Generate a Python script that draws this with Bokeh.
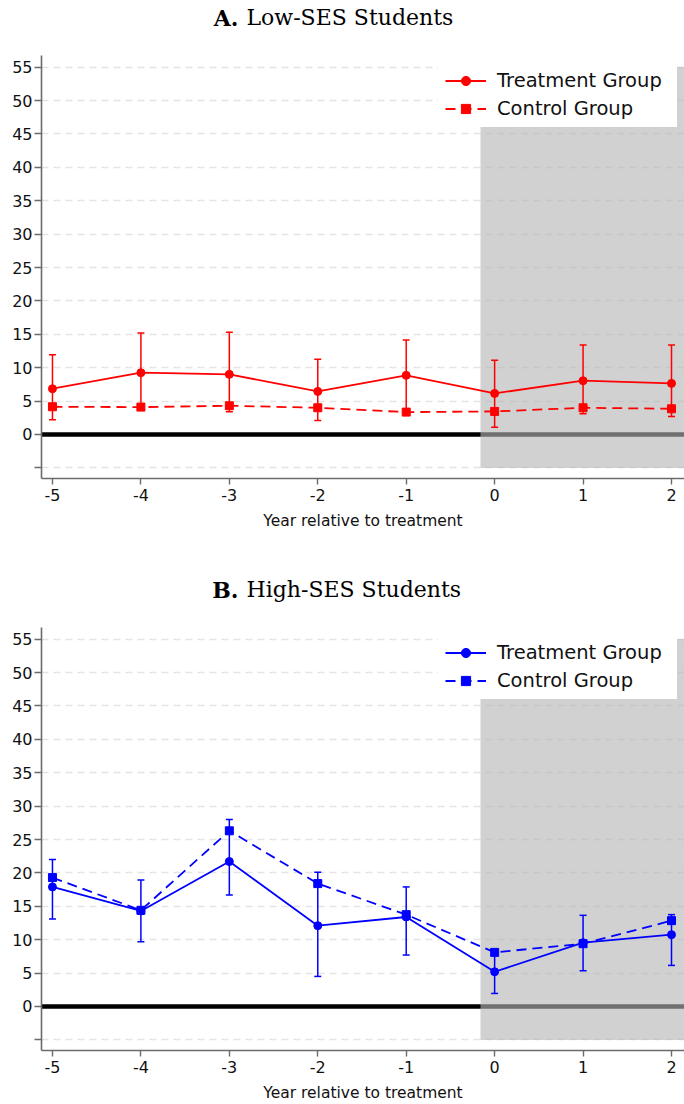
from bokeh.plotting import figure
from bokeh.models import (ColumnDataSource, Whisker, TeeHead, Legend, LegendItem,
                          FixedTicker, Range1d)
from bokeh.layouts import column
from bokeh.embed import file_html
from bokeh.resources import INLINE
from bokeh.core.properties import value

# ---- data -------------------------------------------------------------
years = [-5, -4, -3, -2, -1, 0, 1, 2]

low_treat = [6.85, 9.25, 9.0, 6.45, 8.85, 6.15, 8.05, 7.65]
low_ctrl = [4.15, 4.1, 4.3, 4.0, 3.35, 3.45, 4.0, 3.85]
low_ci_hi = [11.95, 15.2, 15.3, 11.25, 14.15, 11.1, 13.4, 13.4]
low_ci_lo = [2.2, 3.7, 3.4, 2.1, 3.6, 1.1, 3.1, 2.7]

high_treat = [17.9, 14.3, 21.7, 12.1, 13.4, 5.2, 9.55, 10.75]
high_ctrl = [19.3, 14.4, 26.3, 18.4, 13.75, 8.1, 9.4, 12.85]
high_ci_hi = [22.0, 18.95, 28.0, 20.1, 17.9, 8.5, 13.65, 13.75]
high_ci_lo = [13.1, 9.7, 16.7, 4.5, 7.7, 1.95, 5.35, 6.15]

x_ticks = [-5, -4, -3, -2, -1, 0, 1, 2]
x_tick_labels = ["-5", "-4", "-3", "-2", "-1", "0", "1", "2"]
y_ticks = [-5, 0, 5, 10, 15, 20, 25, 30, 35, 40, 45, 50, 55]
y_tick_labels = ["", "0", "5", "10", "15", "20", "25", "30", "35", "40", "45", "50", "55"]

# post-treatment window
shade_left = [-0.16]
shade_right = [2.4]
shade_bottom = [-5]
shade_top = [55]

# ---- layout -----------------------------------------------------------
W = 684
HEAD_H = 55          # heading band above the axes box
BORDER_L = 41
AXES_H = 423         # height of the axes box proper
X_START, X_END = -5.124, 2.147
Y_START, Y_END = -6.59, 56.74
PPX = (W - BORDER_L) / (X_END - X_START)
PPY = AXES_H / (Y_END - Y_START)
Y_TOP = Y_END + HEAD_H / PPY     # frame extends up through the heading band

SANS = "DejaVu Sans"
SERIF = "DejaVu Serif"
AXIS_GRAY = "#6b6b6b"


def xd(px):
    return X_START + (px - BORDER_L) / PPX


def panel(letter, subtitle, color, treat, ctrl, lo, hi, border_bottom):
    p = figure(title=None, width=W, height=HEAD_H + AXES_H + border_bottom,
               output_backend="svg", toolbar_location=None,
               x_range=Range1d(X_START, X_END), y_range=Range1d(Y_START, Y_TOP),
               min_border_left=BORDER_L, min_border_right=0,
               min_border_top=0, min_border_bottom=border_bottom)
    p.outline_line_color = None
    p.background_fill_color = "white"
    p.border_fill_color = "white"

    # grid
    p.xgrid.visible = False
    p.ygrid.ticker = FixedTicker(ticks=y_ticks)
    p.ygrid.grid_line_color = "#e4e4e4"
    p.ygrid.grid_line_dash = "7 5"
    p.ygrid.grid_line_width = 1.5

    # axes
    p.xaxis.ticker = FixedTicker(ticks=x_ticks)
    p.xaxis.major_label_overrides = dict(zip(x_ticks, x_tick_labels))
    p.yaxis.ticker = FixedTicker(ticks=y_ticks)
    p.yaxis.major_label_overrides = dict(zip(y_ticks, y_tick_labels))
    p.yaxis.major_label_orientation = "horizontal"
    p.yaxis.bounds = (Y_START, Y_END)
    for ax in (p.xaxis[0], p.yaxis[0]):
        ax.axis_line_color = AXIS_GRAY
        ax.axis_line_width = 1.6
        ax.major_tick_line_color = AXIS_GRAY
        ax.major_tick_line_width = 1.4
        ax.major_tick_in = 0
        ax.minor_tick_line_color = None
        ax.major_label_text_font = SANS
        ax.major_label_text_font_size = "16px"
        ax.major_label_text_color = "#111111"
    p.yaxis.major_tick_out = 7
    p.yaxis.major_label_standoff = 2
    p.xaxis.major_tick_out = 6
    p.xaxis.major_label_standoff = 4
    p.xaxis.axis_label = "Year relative to treatment"
    p.xaxis.axis_label_text_font = SANS
    p.xaxis.axis_label_text_font_size = "15.5px"
    p.xaxis.axis_label_text_font_style = "normal"
    p.xaxis.axis_label_text_color = "#111111"
    p.xaxis.axis_label_standoff = 8

    # zero reference line, then the translucent post-treatment shading
    p.hspan(y=[0], line_color="black", line_width=4.3)
    p.quad(left=shade_left, right=shade_right, bottom=shade_bottom, top=shade_top,
           fill_color="#b4b4b4", fill_alpha=0.62, line_color=None)

    src = ColumnDataSource(dict(x=years, treat=treat, ctrl=ctrl, lo=lo, hi=hi))

    l_ctrl = p.line("x", "ctrl", source=src, line_color=color, line_width=1.8,
                    line_dash="10 6")
    m_ctrl = p.scatter("x", "ctrl", source=src, marker="square", size=8,
                       fill_color=color, line_color=color)
    l_treat = p.line("x", "treat", source=src, line_color=color, line_width=1.8)
    m_treat = p.scatter("x", "treat", source=src, marker="circle", size=8,
                        fill_color=color, line_color=color)

    head = dict(size=7, line_color=color, line_width=1.5)
    p.add_layout(Whisker(source=src, base="x", upper="hi", lower="lo",
                         line_color=color, line_width=1.5, level="annotation",
                         upper_head=TeeHead(**head), lower_head=TeeHead(**head)))

    # panel heading: bold letter followed by a regular subtitle
    y_head = Y_END + 38 / PPY
    p.text(x=[xd(238)], y=[y_head], text=[letter], text_font=value(SERIF),
           text_font_style="bold", text_font_size="22px", text_align="right",
           text_baseline="alphabetic", text_color="black")
    p.text(x=[xd(246)], y=[y_head], text=[subtitle], text_font=value(SERIF),
           text_font_size="22px", text_align="left",
           text_baseline="alphabetic", text_color="black")

    legend = Legend(items=[
        LegendItem(label="Treatment Group", renderers=[l_treat, m_treat]),
        LegendItem(label="Control Group", renderers=[l_ctrl, m_ctrl]),
    ], location=(397, AXES_H - 8 - 64))
    legend.margin = 0
    legend.padding = 6
    legend.spacing = 5
    legend.glyph_width = 41
    legend.glyph_height = 23
    legend.label_height = 23
    legend.label_width = 173
    legend.label_standoff = 11
    legend.label_text_font = SANS
    legend.label_text_font_size = "19.5px"
    legend.label_text_color = "#111111"
    # a white border keeps the padding active while staying invisible
    legend.border_line_color = "white"
    legend.border_line_width = 1
    legend.background_fill_color = "white"
    legend.background_fill_alpha = 1.0
    p.add_layout(legend, "center")
    return p


pa = panel("A.", "Low-SES Students", "#ff0000",
           low_treat, low_ctrl, low_ci_lo, low_ci_hi, border_bottom=94)
pb = panel("B.", "High-SES Students", "#0000ff",
           high_treat, high_ctrl, high_ci_lo, high_ci_hi, border_bottom=54)

layout = column(pa, pb, spacing=0)
open("out.html", "w").write(file_html(layout, INLINE))
